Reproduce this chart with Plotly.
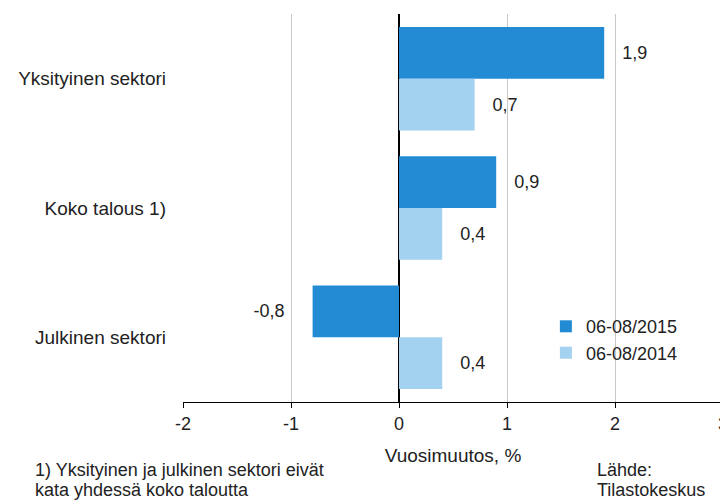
import plotly.graph_objects as go

categories = ["Yksityinen sektori", "Koko talous 1)", "Julkinen sektori"]
series_names = ["06-08/2015", "06-08/2014"]
values_2015 = [1.9, 0.9, -0.8]
values_2014 = [0.7, 0.4, 0.4]
x_ticks = [-2, -1, 0, 1, 2, 3]

colors = ["#228bd4", "#a3d1f0"]
font_family = "Liberation Sans, Arial, sans-serif"
NB = "\u00a0"

fig = go.Figure()
for name, vals, col in zip(series_names, [values_2015, values_2014], colors):
    templates = [(NB * 3 + "%{x:.1f}") if v >= 0 else ("%{x:.1f}" + NB * 5) for v in vals]
    fig.add_trace(go.Bar(
        y=categories, x=vals, name=name, orientation="h",
        marker=dict(color=col, line=dict(width=0)),
        texttemplate=templates, textposition="outside",
        textfont=dict(size=18, color="#222222", family=font_family),
        cliponaxis=False,
    ))

# page has an 8px body margin; compensate so the plot area lands at x 183..723, y 14..402
fig.update_layout(
    width=728, height=500,
    margin=dict(l=175, r=13, t=6, b=106, autoexpand=False),
    paper_bgcolor="white", plot_bgcolor="white",
    barmode="group", bargap=0.2, bargroupgap=0,
    separators=", ",
    font=dict(family=font_family, size=18, color="#222222"),
    showlegend=True,
    legend=dict(x=0.672, y=0.242, xanchor="left", yanchor="top",
                bgcolor="rgba(0,0,0,0)", font=dict(size=18),
                traceorder="normal", itemwidth=30, tracegroupgap=0),
    xaxis=dict(range=[-2, 3], tickvals=x_ticks, ticktext=[str(t) for t in x_ticks],
               showgrid=True, gridcolor="#c8c8c8", gridwidth=1,
               zeroline=True, zerolinecolor="#000000", zerolinewidth=1.5,
               showline=True, linecolor="#000000", linewidth=1,
               ticks="outside", ticklen=5, tickcolor="#000000",
               tickfont=dict(size=18),
               title=dict(text="Vuosimuutos, %", font=dict(size=19), standoff=16),
               automargin=False, fixedrange=True),
    yaxis=dict(autorange="reversed", showgrid=False, ticks="", showline=False,
               tickfont=dict(size=19),
               ticklabelstandoff=16, automargin=False, fixedrange=True),
)

def px_x(p):
    return (p - 183) / 540

def px_y(p):
    return (402 - p) / 388

for txt, yc in [("1) Yksityinen ja julkinen sektori eivät", 470),
                ("kata yhdessä koko taloutta", 490)]:
    fig.add_annotation(text=txt, xref="paper", yref="paper", x=px_x(33), y=px_y(yc),
                       xanchor="left", yanchor="middle", showarrow=False, align="left",
                       font=dict(size=18))
for txt, yc in [("Lähde:", 470), ("Tilastokeskus", 490)]:
    fig.add_annotation(text=txt, xref="paper", yref="paper", x=px_x(595), y=px_y(yc),
                       xanchor="left", yanchor="middle", showarrow=False, align="left",
                       font=dict(size=18))

fig.write_html("out.html")
